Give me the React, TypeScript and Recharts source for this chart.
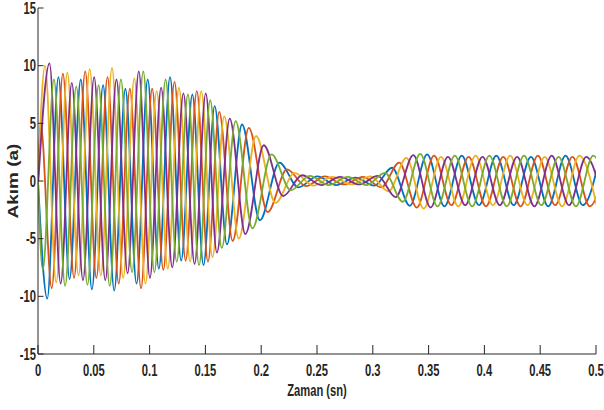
import React from 'react';
import { LineChart, Line, XAxis, YAxis } from 'recharts';

// Times (s) of the successive extrema visible in the picture (alternating peak / trough)
const extremaTimes = [
  0.0003, 0.0023, 0.0043, 0.0063, 0.0083, 0.0103, 0.0123, 0.0143, 0.0163, 0.0183,
  0.0203, 0.0223, 0.0243, 0.0263, 0.0283, 0.0303, 0.0323, 0.0343, 0.0363, 0.0383,
  0.0403, 0.0423, 0.0443, 0.0463, 0.0483, 0.0503, 0.0523, 0.0543, 0.0563, 0.0583,
  0.0603, 0.0623, 0.0643, 0.0663, 0.0683, 0.0703, 0.0723, 0.0743, 0.0763, 0.0783,
  0.0803, 0.0823, 0.0843, 0.0863, 0.0883, 0.0903, 0.0923, 0.0943, 0.0963, 0.0983,
  0.1003, 0.1023, 0.1043, 0.1063, 0.1083, 0.1103, 0.1123, 0.1143, 0.1163, 0.1183,
  0.1203, 0.1223, 0.1243, 0.1263, 0.1283, 0.1303, 0.1323, 0.1343, 0.1363, 0.1383,
  0.1403, 0.1423, 0.1443, 0.1463, 0.1483, 0.1503, 0.1523, 0.1543, 0.1563, 0.1583,
  0.1603,
  0.1624, 0.1646, 0.1669, 0.1693, 0.1718, 0.1744, 0.1771, 0.1799, 0.1828, 0.1858,
  0.1889, 0.1921, 0.1954, 0.1988, 0.2023, 0.2058, 0.2093, 0.2128, 0.2163, 0.2197,
  0.2231, 0.2265, 0.2299, 0.2333, 0.2367, 0.2401, 0.2435, 0.2469, 0.2503, 0.2537,
  0.2571, 0.2605, 0.2639, 0.2673, 0.2707, 0.2741, 0.2775, 0.2809, 0.2843, 0.2877,
  0.2911, 0.2945, 0.2979, 0.3013, 0.3045, 0.3077, 0.3109, 0.3141, 0.3173, 0.3205,
  0.3237, 0.3269, 0.3301, 0.3332, 0.3363, 0.3394, 0.3425, 0.3456, 0.3487, 0.3518,
  0.3549, 0.3580, 0.3611, 0.3642, 0.3673, 0.3704, 0.3735, 0.3766, 0.3797, 0.3828,
  0.3859, 0.3890, 0.3921, 0.3952, 0.3983, 0.4014, 0.4045, 0.4076, 0.4107, 0.4138,
  0.4169, 0.4200, 0.4231, 0.4262, 0.4293, 0.4324, 0.4355, 0.4386, 0.4417, 0.4448,
  0.4479, 0.4510, 0.4541, 0.4572, 0.4603, 0.4634, 0.4665, 0.4696, 0.4727, 0.4758,
  0.4789, 0.4820, 0.4851, 0.4882, 0.4913, 0.4944, 0.4975, 0.5006, 0.5037, 0.5068,
  0.5099, 0.5130,
];

// Extremum values (A) of each phase current, in time order
const phaseA = [ // blue
  -10.2, 9.0, -8.5, 8.8, -9.4, 8.3, -9.5, 8.0, -8.9, 8.8,
  -7.6, 9.0, -6.9, 7.5, -7.3, 6.5, -5.5, 4.9, -3.4, 1.6,
  -0.55, 0.4, -0.35, 0.3, -0.4, 1.15, -2.15, 2.3, -2.2, 2.2,
  -2.1, 2.2, -2.1, 2.1, -2.2, 2.2, -2.1, 2.2,
];
const phaseB = [ // orange
  5.0, -9.3, 9.3, -8.4, 9.5, -8.4, 9.0, -8.9, 8.0, -9.3,
  8.0, -7.7, 8.6, -6.9, 7.8, -7.0, 6.0, -5.2, 4.6, -2.7,
  1.0, -0.45, 0.4, -0.3, 0.35, -0.55, 1.6, -2.3, 2.2, -2.1,
  2.1, -2.2, 2.1, -2.2, 2.2, -2.1, 2.1, -2.2, 2.1,
];
const phaseC = [ // yellow
  10.0, -8.8, 9.4, -8.2, 9.7, -8.2, 9.8, -8.4, 8.9, -8.9,
  7.8, -7.6, 8.1, -7.0, 7.8, -6.6, 5.6, -5.0, 3.9, -1.9,
  0.7, -0.4, 0.35, -0.3, 0.4, -0.9, 2.0, -2.4, 2.1, -2.2,
  2.2, -2.1, 2.2, -2.1, 2.1, -2.2, 2.2, -2.1,
];
const phaseD = [ // purple
  0, 10.2, -8.9, 8.5, -8.6, 9.0, -8.6, 8.8, -8.0, 9.5,
  -8.4, 8.1, -7.5, 7.6, -7.2, 7.6, -6.2, 5.4, -4.6, 3.1,
  -1.3, 0.5, -0.35, 0.35, -0.3, 0.45, -1.4, 2.25, -2.3, 2.1,
  -2.1, 2.1, -2.1, 2.1, -2.2, 2.2, -2.1, 2.1, -2.1,
];
const phaseE = [ // green
  -7.7, 8.8, -9.1, 8.2, -9.0, 8.3, -9.1, 8.8, -7.9, 9.5,
  -7.9, 8.8, -7.0, 7.5, -7.3, 7.0, -5.8, 5.2, -4.1, 2.3,
  -0.8, 0.45, -0.35, 0.35, -0.35, 0.7, -1.8, 2.35, -2.2, 2.2,
  -2.2, 2.2, -2.2, 2.2, -2.1, 2.1, -2.2, 2.2, -2.2,
];
const startValue = 0;

const xTicks = [0, 0.05, 0.1, 0.15, 0.2, 0.25, 0.3, 0.35, 0.4, 0.45, 0.5];
const xTickLabels = ['0', '0.05', '0.1', '0.15', '0.2', '0.25', '0.3', '0.35', '0.4', '0.45', '0.5'];
const yTicks = [-15, -10, -5, 0, 5, 10, 15];
const yTickLabels = ['-15', '-10', '-5', '0', '5', '10', '15'];

const series = [
  { key: 'a', color: '#0072BD', values: phaseA },
  { key: 'b', color: '#D95319', values: phaseB },
  { key: 'c', color: '#EDB120', values: phaseC },
  { key: 'd', color: '#7E2F8E', values: phaseD },
  { key: 'e', color: '#77AC30', values: phaseE },
];
// which phase owns the n-th extremum (cyclic order seen in the picture)
const ownerCycle = ['a', 'd', 'b', 'e', 'c'];

function buildRows() {
  const rows: any[] = [{ t: 0, a: startValue, b: startValue, c: startValue, e: startValue }];
  const counters: Record<string, number> = { a: 0, b: 0, c: 0, d: 0, e: 0 };
  const lookup: Record<string, number[]> = {};
  series.forEach((s) => (lookup[s.key] = s.values));
  extremaTimes.forEach((t, i) => {
    const key = ownerCycle[(i + 1) % 5];
    const v = lookup[key][counters[key]++];
    rows.push({ t, [key]: v });
  });
  return rows;
}
const rows = buildRows();

const FONT = '"Liberation Sans", Arial, Helvetica, sans-serif';
const INK = '#262626';

const BottomTick = (props: any) => {
  const { x, y, payload } = props;
  const i = xTicks.indexOf(payload.value);
  return (
    <g>
      <line x1={x} y1={y} x2={x} y2={y - 9} stroke={INK} strokeWidth={1} />
      <text
        transform={`translate(${x},${y + 22}) scale(0.7,1)`}
        textAnchor="middle"
        fontFamily={FONT}
        fontWeight="bold"
        fontSize={16}
        fill={INK}
      >
        {xTickLabels[i]}
      </text>
    </g>
  );
};
const TopTick = (props: any) => {
  const { x, y } = props;
  return <line x1={x} y1={y} x2={x} y2={y + 9} stroke={INK} strokeWidth={1} />;
};
const LeftTick = (props: any) => {
  const { x, y, payload } = props;
  const i = yTicks.indexOf(payload.value);
  return (
    <g>
      <line x1={x} y1={y} x2={x + 5.5} y2={y} stroke={INK} strokeWidth={1} />
      <text
        transform={`translate(${x - 2},${y + 5.5}) scale(0.7,1)`}
        textAnchor="end"
        fontFamily={FONT}
        fontWeight="bold"
        fontSize={16}
        fill={INK}
      >
        {yTickLabels[i]}
      </text>
    </g>
  );
};
const RightTick = (props: any) => {
  const { x, y } = props;
  return <line x1={x} y1={y} x2={x - 5.5} y2={y} stroke={INK} strokeWidth={1} />;
};

export default function App() {
  return (
    <div style={{ position: 'absolute', left: 0, top: 0, width: 604, height: 410, background: '#fff' }}>
      <LineChart width={604} height={410} data={rows} margin={{ top: 8, right: 8, bottom: 0, left: 0 }}>
        <XAxis
          dataKey="t"
          type="number"
          domain={[0, 0.5]}
          ticks={xTicks}
          interval={0}
          allowDataOverflow
          height={56}
          tickSize={0}
          tickMargin={0}
          tickLine={false}
          axisLine={{ stroke: INK, strokeWidth: 1 }}
          tick={<BottomTick />}
          label={{
            content: () => (
              <text
                transform="translate(317,396) scale(0.7,1)"
                textAnchor="middle"
                fontFamily={FONT}
                fontWeight="bold"
                fontSize={16}
                fill={INK}
              >
                Zaman (sn)
              </text>
            ),
          }}
        />
        <XAxis
          xAxisId="top"
          orientation="top"
          type="number"
          domain={[0, 0.5]}
          ticks={xTicks}
          interval={0}
          height={0}
          tickSize={0}
          tickMargin={0}
          tickLine={false}
          axisLine={{ stroke: INK, strokeWidth: 1 }}
          tick={<TopTick />}
        />
        <YAxis
          type="number"
          domain={[-15, 15]}
          ticks={yTicks}
          interval={0}
          allowDataOverflow
          width={38}
          tickSize={0}
          tickMargin={0}
          tickLine={false}
          axisLine={{ stroke: INK, strokeWidth: 1 }}
          tick={<LeftTick />}
          label={{
            content: () => (
              <text
                transform="translate(18,181) rotate(-90) scale(1,0.77)"
                textAnchor="middle"
                fontFamily={FONT}
                fontWeight="bold"
                fontSize={19}
                fill={INK}
              >
                Akım (a)
              </text>
            ),
          }}
        />
        <YAxis
          yAxisId="right"
          orientation="right"
          type="number"
          domain={[-15, 15]}
          ticks={yTicks}
          interval={0}
          width={0}
          tickSize={0}
          tickMargin={0}
          tickLine={false}
          axisLine={{ stroke: INK, strokeWidth: 1 }}
          tick={<RightTick />}
        />
        {series.map((s) => (
          <Line
            key={s.key}
            dataKey={s.key}
            type="monotone"
            stroke={s.color}
            strokeWidth={1.8}
            dot={false}
            connectNulls
            isAnimationActive={false}
          />
        ))}
      </LineChart>
    </div>
  );
}
